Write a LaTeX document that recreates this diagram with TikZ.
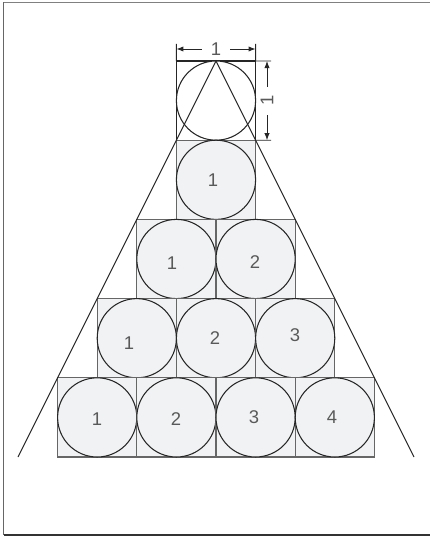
\documentclass[tikz,border=0pt]{standalone}
\usepackage{fontspec}
\setmainfont{Liberation Sans}
\usetikzlibrary{arrows.meta}
\definecolor{pile}{HTML}{F1F2F4}

\begin{document}
\begin{tikzpicture}[
    x=0.02cm, y=-0.02cm,
    cell/.style={rectangle, draw=black!60, fill=pile, minimum size=1.584cm,
                 inner sep=0pt, outer sep=0pt, line width=0.6pt},
    ball/.style={circle, draw=black!85, fill=pile, minimum size=1.584cm,
                 inner sep=0pt, outer sep=0pt, line width=0.6pt},
    num/.style={font=\fontsize{10.5}{12}\selectfont, text=black!65},
    dim/.style={{Latex[length=4pt,width=3pt]}-{Latex[length=4pt,width=3pt]}, line width=0.5pt, draw=black!85},
    ext/.style={line width=0.5pt, draw=black!85}
]
    \useasboundingbox (0,0) rectangle (429,537);
    \draw[black!50, line width=0.8pt] (3.5,2.5) -- (440,2.5);
    \draw[black!60, line width=0.8pt] (3.5,2.5) -- (3.5,535);
    \draw[black!80, line width=0.8pt] (3.5,535) -- (440,535);

    % squares with their circles
    \node[cell, fill=white, draw=black!85] (s1) at (216,100.6) {};
    \node[ball, fill=white] (b1) at (s1) {};
    \node[cell] (s21) at (216,179.8) {};    \node[ball] (b21) at (s21) {};
    \node[cell] (s31) at (176.4,259) {};    \node[ball] (b31) at (s31) {};
    \node[cell] (s32) at (255.6,259) {};    \node[ball] (b32) at (s32) {};
    \node[cell] (s41) at (136.8,338.2) {};  \node[ball] (b41) at (s41) {};
    \node[cell] (s42) at (216,338.2) {};    \node[ball] (b42) at (s42) {};
    \node[cell] (s43) at (295.2,338.2) {};  \node[ball] (b43) at (s43) {};
    \node[cell] (s51) at (97.2,417.4) {};   \node[ball] (b51) at (s51) {};
    \node[cell] (s52) at (176.4,417.4) {};  \node[ball] (b52) at (s52) {};
    \node[cell] (s53) at (255.6,417.4) {};  \node[ball] (b53) at (s53) {};
    \node[cell] (s54) at (334.8,417.4) {};  \node[ball] (b54) at (s54) {};

    % numbers
    \node[num] (n21) at (213,180) {1};
    \node[num] (n31) at (172,263) {1};
    \node[num] (n32) at (255,262) {2};
    \node[num] (n41) at (129,343) {1};
    \node[num] (n42) at (215,338) {2};
    \node[num] (n43) at (295,335) {3};
    \node[num] (n51) at (97,419) {1};
    \node[num] (n52) at (176,419) {2};
    \node[num] (n53) at (254,417) {3};
    \node[num] (n54) at (332,417) {4};

    % the two sides
    \coordinate (apex) at (s1.north);
    \coordinate (footl) at (18,457);
    \coordinate (footr) at (414,457);
    \draw[ext, line width=0.6pt] (footl) -- (apex) -- (footr);

    % dimensions
    \coordinate (hl) at (176.4,44);
    \coordinate (hr) at (255.6,44);
    \coordinate (vt) at (271,61);
    \coordinate (vb) at (271,140.2);
    \draw[ext] (s1.north west) -- (hl);
    \draw[ext] (s1.north east) -- (hr);
    \draw[ext] (s1.north east) -- (vt);
    \draw[ext] (s1.south east) -- (vb);
    \draw[dim] (176.4,49) -- node[num, fill=white, inner xsep=5pt, inner ysep=0.5pt] (dh) {1} (255.6,49);
    \draw[dim] (267,61) -- node[num, fill=white, inner xsep=5pt, inner ysep=0.5pt, rotate=90] (dv) {1} (267,140.2);
\end{tikzpicture}
\end{document}
